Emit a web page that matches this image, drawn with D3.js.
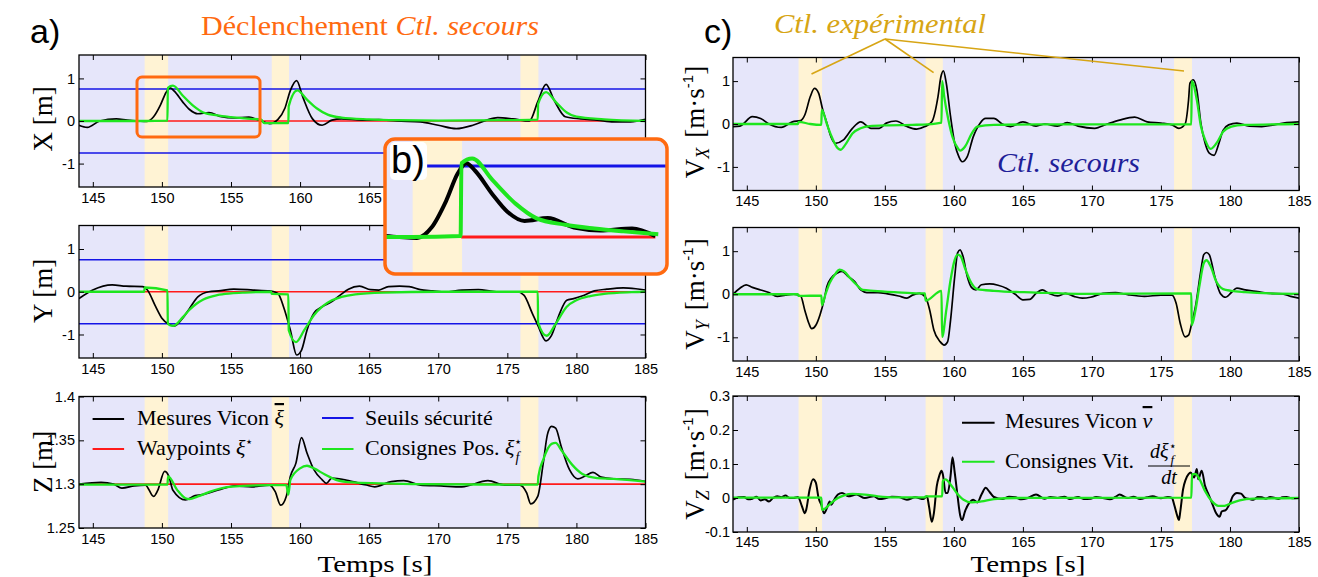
<!DOCTYPE html>
<html>
<head>
<meta charset="utf-8">
<script src="https://cdnjs.cloudflare.com/ajax/libs/d3/7.8.5/d3.min.js"></script>
<style>
  body { margin: 0; background: #fff; }
  svg { display: block; }
</style>
</head>
<body>
<script>
// ---- data ----
var timeDomain = [144, 185];
var timeTicks = [145, 150, 155, 160, 165, 170, 175, 180, 185];
var posTicks = [-1, 0, 1];
var zTicks = [1.25, 1.3, 1.35, 1.4];
var vzTicks = [-0.1, 0, 0.1, 0.2, 0.3];

// periods where the experimental controller is active (yellow bands)
var bands = [[148.75, 150.45], [157.95, 159.2], [175.95, 177.25]];
var safetyLimits = [0.75, -0.75];
var waypointXY = 0;
var waypointZ = 1.3;

// position X [m]
var xMeas = [[144,-0.1],[144.6,-0.15],[145.5,0],[146.7,0.05],[147.5,0.02],[148.3,0],[148.9,-0.01],[149.4,0.1],[149.9,0.38],[150.3,0.67],[150.6,0.78],[150.9,0.7],[151.5,0.45],[152.0,0.27],[152.6,0.17],[153.4,0.2],[154.3,0.1],[155.2,0.07],[156.3,0.09],[157.1,0.01],[157.8,-0.06],[158.4,0.04],[158.9,0.3],[159.3,0.72],[159.75,0.95],[160.2,0.56],[160.9,0.05],[161.6,-0.1],[162.3,0.02],[163.0,0.05],[164.5,0.02],[165.7,0.03],[167,0.0],[168.7,-0.02],[170,-0.1],[171.3,-0.18],[172.5,-0.1],[173.5,0.02],[174.3,0.08],[175.4,0.05],[176.6,0.0],[177.2,0.45],[177.8,0.86],[178.4,0.48],[179.2,0.1],[180.3,0.05],[181.5,0.02],[182.7,-0.02],[183.9,-0.02],[185,0.04]];
var xCmd = [[144,0],[148.7,0],[150.4,0.01],[150.43,0.78],[150.8,0.83],[151.5,0.6],[152.3,0.35],[153,0.2],[154,0.13],[155,0.09],[156,0.06],[157.2,0.03],[157.4,-0.05],[159.15,-0.05],[159.18,0.35],[159.8,0.72],[160.5,0.5],[161.2,0.3],[162,0.15],[163,0.08],[165,0.04],[167,0.02],[170,0.01],[175.5,0.02],[177.2,0.03],[177.23,0.4],[177.8,0.68],[178.5,0.45],[179.3,0.2],[180,0.1],[182,0.04],[185,0]];

// position Y [m]
var yMeas = [[144,-0.16],[145,0.04],[146.4,0.16],[147.4,0.13],[148.6,0.12],[148.95,0.04],[149.55,-0.35],[150,-0.62],[150.5,-0.76],[150.9,-0.8],[151.4,-0.66],[152,-0.39],[152.6,-0.12],[153.4,0],[154.1,0.02],[155.2,0.06],[156.6,0.04],[157.8,0.02],[158.4,-0.04],[158.8,-0.35],[159.3,-0.9],[159.75,-1.48],[160.1,-1.37],[160.5,-0.9],[161,-0.5],[161.6,-0.35],[162.3,-0.23],[162.9,-0.08],[163.5,0.06],[164.3,0.13],[165.1,0.05],[165.7,0.04],[166.4,0.12],[167.2,0.13],[167.9,0.12],[168.7,0.05],[169.6,0.02],[170.5,-0.01],[171.7,0.04],[172.9,0.05],[174.2,0],[175.7,0],[176.2,-0.08],[176.8,-0.5],[177.2,-0.78],[177.8,-1.15],[178.2,-1.02],[178.7,-0.58],[179.3,-0.2],[179.8,-0.16],[180.4,-0.1],[181.3,0.02],[182.2,0.06],[183.4,0.09],[184.3,0.07],[185,0.04]];
var yCmd = [[144,0],[148.72,0],[148.75,0.1],[150.4,0.03],[150.43,-0.75],[150.8,-0.8],[151.5,-0.6],[152,-0.42],[152.5,-0.28],[153,-0.18],[154,-0.08],[155,-0.04],[156,-0.02],[157.9,0],[157.95,-0.05],[159.15,-0.06],[159.18,-0.9],[159.7,-1.18],[160.3,-0.9],[161,-0.55],[161.6,-0.35],[162.3,-0.2],[163,-0.12],[164,-0.06],[166,-0.02],[170,0],[177.2,0],[177.23,-0.72],[177.85,-1.03],[178.5,-0.75],[179.3,-0.35],[180,-0.2],[181,-0.1],[182,-0.05],[184,-0.01],[185,0]];

// position Z [m]
var zMeas = [[144,1.3],[145.6,1.302],[146.5,1.3],[147.1,1.2955],[148,1.298],[148.8,1.299],[149.4,1.286],[149.7,1.293],[150.2,1.3145],[150.5,1.309],[150.8,1.293],[151.7,1.282],[152.4,1.287],[152.9,1.288],[154.1,1.2935],[155.3,1.298],[156.5,1.297],[157.8,1.299],[158.2,1.2915],[158.6,1.276],[159,1.286],[159.3,1.309],[159.7,1.324],[160.1,1.353],[160.5,1.3355],[161,1.3165],[161.6,1.305],[161.9,1.301],[162.3,1.307],[163.5,1.304],[164.8,1.299],[165.4,1.297],[166.6,1.303],[167.5,1.304],[168.7,1.299],[170.2,1.298],[171.7,1.297],[173.6,1.304],[174.8,1.299],[175.9,1.299],[176.4,1.29],[176.7,1.2775],[177.2,1.286],[177.6,1.324],[177.9,1.3565],[178.2,1.366],[178.5,1.364],[178.9,1.343],[179.5,1.3165],[180.1,1.306],[180.6,1.309],[181.2,1.3135],[181.8,1.308],[182.7,1.306],[183.9,1.3055],[185,1.303]];
var zCmd = [[144,1.2995],[150.4,1.2995],[150.45,1.309],[151.1,1.2935],[151.7,1.284],[152,1.283],[152.6,1.286],[153.5,1.2915],[154.7,1.2965],[155.9,1.298],[157.8,1.299],[159.0,1.299],[159.15,1.288],[159.3,1.305],[160,1.318],[160.5,1.321],[161,1.318],[161.8,1.311],[162.6,1.305],[163.8,1.302],[165.7,1.301],[168.7,1.3],[177.2,1.2995],[177.25,1.309],[177.6,1.328],[178.2,1.346],[178.5,1.347],[178.9,1.339],[179.7,1.322],[180.4,1.312],[181.5,1.307],[182.7,1.306],[185,1.303]];

// velocity Vx [m/s]
var vxMeas = [[144,-0.06],[144.5,-0.05],[145.4,0.17],[146,0.13],[146.6,0],[147.5,-0.08],[148.3,0.05],[148.9,0.08],[149.2,0.21],[149.6,0.64],[149.9,0.83],[150.2,0.72],[150.5,0.33],[150.8,0.02],[151.1,-0.3],[151.4,-0.45],[152,-0.37],[152.65,-0.1],[153.25,0.05],[154,-0.1],[154.6,-0.1],[155.1,0.02],[155.8,0.07],[156.6,-0.06],[157.3,-0.12],[157.9,-0.06],[158.4,0.05],[158.85,0.64],[159.06,1.1],[159.24,1.24],[159.45,0.95],[159.76,0.17],[160.06,-0.45],[160.36,-0.76],[160.6,-0.88],[160.97,-0.76],[161.4,-0.3],[161.9,0.02],[162.3,0.13],[162.9,0.13],[163.5,0],[164.1,-0.06],[165,0.05],[165.95,-0.05],[166.6,0],[167.5,-0.05],[168.2,0.03],[169,-0.05],[170.2,-0.1],[171.1,0],[172,0.09],[173.1,0.16],[174,0.05],[175,0.02],[175.8,-0.02],[176.3,-0.1],[176.75,0],[177,0.56],[177.1,0.95],[177.35,1.03],[177.6,0.79],[177.9,0],[178.2,-0.45],[178.5,-0.68],[178.85,-0.73],[179.2,-0.45],[179.5,-0.15],[179.9,-0.02],[180.5,0.02],[181.4,-0.05],[182.3,-0.06],[183.2,-0.02],[184.1,0.03],[185,0.05]];
var vxCmd = [[144,0],[148.7,0],[148.75,0.05],[149.6,0],[150.4,-0.02],[150.43,0.33],[150.8,0.0],[151.1,-0.26],[151.6,-0.57],[151.8,-0.6],[152.2,-0.45],[152.65,-0.22],[153.25,-0.1],[153.9,-0.05],[155.1,-0.03],[157,-0.02],[158.1,-0.01],[159.1,0.03],[159.15,1.0],[159.3,0.64],[159.6,0.1],[159.9,-0.3],[160.3,-0.57],[160.45,-0.62],[160.8,-0.53],[161.3,-0.22],[161.7,-0.06],[162.9,-0.02],[166,-0.01],[177.2,-0.01],[177.23,1.0],[177.6,0.56],[177.9,-0.06],[178.2,-0.37],[178.6,-0.58],[179.1,-0.41],[179.5,-0.18],[180.1,-0.06],[181,-0.02],[185,0]];

// velocity Vy [m/s]
var vyMeas = [[144,0],[144.5,0.14],[144.95,0.22],[145.4,0.16],[146,0.1],[146.6,0.04],[147.2,-0.05],[147.8,-0.02],[148.4,0],[148.9,-0.04],[149.2,-0.37],[149.5,-0.68],[149.7,-0.8],[150,-0.72],[150.3,-0.48],[150.6,-0.13],[150.8,0.18],[151.1,0.37],[151.6,0.5],[151.9,0.53],[152.35,0.41],[152.8,0.3],[153.25,0.1],[153.7,0.04],[154.5,0.04],[155.2,0.01],[156,-0.04],[156.6,-0.09],[157,-0.02],[157.5,0.02],[157.95,-0.07],[158.25,-0.37],[158.55,-0.83],[159,-1.1],[159.3,-1.18],[159.55,-1.1],[159.76,-0.6],[160.06,0.41],[160.27,0.96],[160.45,1.03],[160.66,0.88],[160.97,0.41],[161.27,0.16],[161.6,0.1],[162,0.22],[162.6,0.24],[163.2,0.21],[163.8,0.14],[164.45,0],[165,-0.13],[165.5,-0.12],[165.95,0.02],[166.4,0.1],[166.9,0.02],[167.5,-0.04],[168.1,0.02],[168.7,-0.05],[169.3,-0.09],[169.9,-0.07],[170.8,0.02],[171.7,0.04],[172.6,-0.01],[173.8,-0.05],[175,-0.02],[175.8,-0.02],[176.1,-0.21],[176.4,-0.68],[176.75,-0.99],[177,-0.95],[177.2,-0.72],[177.5,-0.29],[177.9,0.57],[178.1,0.92],[178.3,0.97],[178.5,0.92],[178.9,0.41],[179.3,0.02],[179.7,-0.07],[180.1,0.04],[180.5,0.14],[181.1,0.1],[182,0.06],[182.9,0.02],[183.8,0.01],[184.4,-0.05],[185,-0.09]];
var vyCmd = [[144,0],[148.7,0],[148.75,-0.04],[150.4,-0.03],[150.45,-0.25],[150.7,0],[151,0.26],[151.45,0.49],[151.7,0.57],[152.05,0.53],[152.5,0.37],[152.95,0.22],[153.4,0.1],[154.2,0.08],[155.7,0.05],[157.5,0.02],[157.9,0.02],[157.95,-0.15],[159.1,0.08],[159.15,-0.99],[159.45,-0.37],[159.76,0.33],[160.06,0.8],[160.27,0.92],[160.5,0.88],[160.8,0.61],[161.27,0.26],[161.7,0.12],[162.9,0.08],[165.95,0.04],[169,0.01],[177.2,0.02],[177.23,-0.72],[177.5,-0.37],[177.8,0.22],[178.1,0.72],[178.3,0.79],[178.6,0.65],[179,0.3],[179.5,0.12],[180.1,0.08],[181.1,0.05],[182.9,0.02],[185,0.01]];

// velocity Vz [m/s]
var vzMeas = [[144,-0.005],[144.4,0.002],[144.8,0.003],[145.1,-0.004],[145.4,-0.002],[145.7,0.004],[146,-0.007],[146.3,-0.004],[146.6,-0.01],[146.9,0],[147.2,0.005],[147.5,0.002],[147.8,0.007],[148.1,0],[148.4,0],[148.7,0.003],[149,-0.025],[149.2,-0.045],[149.3,-0.035],[149.55,0.025],[149.8,0.055],[150,0.045],[150.2,0],[150.4,-0.02],[150.6,-0.045],[150.8,-0.03],[151,-0.01],[151.1,-0.02],[151.4,0],[151.6,0.01],[151.9,0.015],[152.35,0.005],[152.95,0.01],[153.55,0],[154.2,0.005],[154.6,-0.003],[155.1,0],[155.5,0.004],[156,0.003],[156.6,-0.005],[157.2,0.002],[157.8,-0.003],[158.05,0.005],[158.2,-0.025],[158.4,-0.07],[158.55,-0.045],[158.76,0.035],[158.94,0.065],[159.1,0.08],[159.2,0.07],[159.4,0.015],[159.55,0.015],[159.76,0.065],[159.9,0.12],[160.06,0.075],[160.27,0.005],[160.45,-0.05],[160.6,-0.065],[160.8,-0.04],[161.1,-0.015],[161.4,-0.005],[161.7,-0.013],[162,0.01],[162.3,0.03],[162.6,0.017],[162.9,0.003],[163.5,-0.003],[164,0.004],[164.45,0.002],[164.9,-0.004],[165.35,0],[165.95,0.01],[166.56,-0.002],[167,0.003],[167.5,0],[168,0.004],[168.4,-0.003],[169,0.003],[169.4,-0.003],[169.9,-0.002],[170.3,0.003],[170.8,0],[171.3,-0.004],[171.7,0.003],[172,0.01],[172.6,0],[173,0.004],[173.5,-0.003],[174,0.002],[174.4,0.005],[175,-0.001],[175.5,0.003],[175.8,0],[175.96,-0.02],[176.2,-0.055],[176.3,-0.065],[176.4,-0.04],[176.6,0.025],[176.8,0.055],[177,0.07],[177.15,0.075],[177.4,0.06],[177.6,0.085],[177.7,0.055],[177.95,0.08],[178.2,0.035],[178.4,0.015],[178.7,-0.015],[179,-0.045],[179.25,-0.055],[179.4,-0.04],[179.7,-0.035],[180,-0.015],[180.2,0.005],[180.5,0.015],[180.8,0.013],[181.1,0],[181.4,-0.003],[181.7,-0.005],[182,0.003],[182.3,0.002],[182.6,-0.002],[182.9,0.003],[183.2,0.001],[183.5,-0.003],[183.8,0.002],[184.1,0.003],[184.5,-0.001],[185,0]];
var vzCmd = [[144,0.001],[150.4,0.001],[150.45,-0.035],[150.7,-0.03],[151.1,-0.015],[151.6,0],[152.05,0.008],[152.65,0.012],[153.55,0.01],[154.5,0.005],[155.7,0.002],[157.9,0.002],[157.95,0.005],[159.15,0.005],[159.2,0.05],[159.4,0.055],[159.76,0.04],[160.2,0.015],[160.7,-0.005],[161.3,-0.013],[162,-0.01],[162.9,-0.003],[164.45,0],[177.2,0.001],[177.25,0.07],[177.5,0.07],[177.8,0.055],[178.2,0.02],[178.7,-0.01],[179.15,-0.023],[179.6,-0.023],[180.1,-0.015],[180.7,-0.007],[181.7,-0.002],[185,0]];

// ---- colours / fonts ----
var bgColor = "#e6e6fa";
var bandColor = "#fff3d4";
var measColor = "#000";
var cmdColor = "#1ee61e";
var limitColor = "#1414e6";
var wpColor = "#ff1a1a";
var orange = "#ff6a10";
var gold = "#d7a514";
var navy = "#1f1f99";
var serif = "Liberation Serif, DejaVu Serif, serif";
var sans = "Liberation Sans, Arial, sans-serif";

var svg = d3.select("body").append("svg")
	.attr("width", 1318)
	.attr("height", 577);

// draw one sub-plot
function drawPanel(p) {
	var x = d3.scaleLinear().domain(timeDomain).range([p.x0, p.x1]);
	var y = d3.scaleLinear().domain(p.dom).range([p.y1, p.y0]);
	var g = svg.append("g");

	g.append("clipPath").attr("id", "clip-" + p.id)
		.append("rect")
		.attr("x", p.x0).attr("y", p.y0)
		.attr("width", p.x1 - p.x0).attr("height", p.y1 - p.y0);

	var body = g.append("g").attr("clip-path", "url(#clip-" + p.id + ")");
	body.append("rect")
		.attr("x", p.x0).attr("y", p.y0)
		.attr("width", p.x1 - p.x0).attr("height", p.y1 - p.y0)
		.attr("fill", bgColor);

	body.selectAll(".band").data(bands).enter()
		.append("rect")
		.attr("x", function(d) { return x(d[0]); })
		.attr("width", function(d) { return x(d[1]) - x(d[0]); })
		.attr("y", p.y0).attr("height", p.y1 - p.y0)
		.attr("fill", bandColor);

	if (p.wp !== undefined) {
		body.append("line")
			.attr("x1", p.x0).attr("x2", p.x1)
			.attr("y1", y(p.wp)).attr("y2", y(p.wp))
			.attr("stroke", wpColor).attr("stroke-width", 1.6);
	}
	(p.limits || []).forEach(function(v) {
		body.append("line")
			.attr("x1", p.x0).attr("x2", p.x1)
			.attr("y1", y(v)).attr("y2", y(v))
			.attr("stroke", limitColor).attr("stroke-width", 1.6);
	});

	var line = d3.line()
		.x(function(d) { return x(d[0]); })
		.y(function(d) { return y(d[1]); })
		.curve(d3.curveMonotoneX);

	body.append("path").datum(p.meas)
		.attr("d", line).attr("fill", "none")
		.attr("stroke", measColor).attr("stroke-width", p.measWidth || 1.7);
	body.append("path").datum(p.cmd)
		.attr("d", line).attr("fill", "none")
		.attr("stroke", cmdColor).attr("stroke-width", 2.3);

	// axes, matlab style : ticks inside on all four sides
	var ax = [];
	ax.push(g.append("g").attr("transform", "translate(0," + p.y1 + ")")
		.call(d3.axisBottom(x).tickValues(timeTicks).tickSize(-5).tickPadding(p.xpad || 5.5).tickFormat(d3.format("d"))));
	ax.push(g.append("g").attr("transform", "translate(0," + p.y0 + ")")
		.call(d3.axisTop(x).tickValues(timeTicks).tickSize(-5).tickFormat("")));
	ax.push(g.append("g").attr("transform", "translate(" + p.x0 + ",0)")
		.call(d3.axisLeft(y).tickValues(p.ticks).tickSize(-5).tickPadding(p.ypad).tickFormat(function(d) { return String(d); })));
	ax.push(g.append("g").attr("transform", "translate(" + p.x1 + ",0)")
		.call(d3.axisRight(y).tickValues(p.ticks).tickSize(-5).tickFormat("")));
	ax.forEach(function(a) {
		a.select(".domain").remove();
		a.attr("font-family", sans).attr("font-size", 14.5);
		a.selectAll("line").attr("stroke", "#000");
		a.selectAll("text").attr("fill", "#000");
	});

	g.append("rect")
		.attr("x", p.x0).attr("y", p.y0)
		.attr("width", p.x1 - p.x0).attr("height", p.y1 - p.y0)
		.attr("fill", "none").attr("stroke", "#000").attr("stroke-width", 1.3);

	return {x: x, y: y};
}

var L0 = 79, L1 = 645.5, R0 = 733, R1 = 1299;

drawPanel({id: "x", x0: L0, x1: L1, y0: 55, y1: 187, dom: [-1.55, 1.55], ticks: posTicks, ypad: 4,
	meas: xMeas, cmd: xCmd, wp: waypointXY, limits: safetyLimits});
drawPanel({id: "y", x0: L0, x1: L1, y0: 225.5, y1: 358, dom: [-1.55, 1.55], ticks: posTicks, ypad: 4,
	meas: yMeas, cmd: yCmd, wp: waypointXY, limits: safetyLimits});
drawPanel({id: "z", x0: L0, x1: L1, y0: 396.5, y1: 528, dom: [1.25, 1.4], ticks: zTicks, ypad: 4,
	meas: zMeas, cmd: zCmd, wp: waypointZ});
drawPanel({id: "vx", x0: R0, x1: R1, y0: 57.5, y1: 190.5, dom: [-1.55, 1.55], ticks: posTicks, ypad: 3,
	meas: vxMeas, cmd: vxCmd});
drawPanel({id: "vy", x0: R0, x1: R1, y0: 227.5, y1: 361, dom: [-1.55, 1.55], ticks: posTicks, ypad: 3,
	meas: vyMeas, cmd: vyCmd});
drawPanel({id: "vz", x0: R0, x1: R1, y0: 396, y1: 532, dom: [-0.1, 0.3], ticks: vzTicks, ypad: 3, xpad: 4.5,
	meas: vzMeas, cmd: vzCmd, measWidth: 2});

// ---- y labels ----
function posLabel(cx, cy, name) {
	svg.append("text")
		.attr("transform", "translate(" + cx + "," + cy + ") rotate(-90)")
		.attr("text-anchor", "middle")
		.attr("font-family", serif).attr("font-size", 27)
		.text(name + " [m]");
}
posLabel(52, 119, "X");
posLabel(52, 291, "Y");
posLabel(52, 462, "Z");

function velLabel(cx, cy, sub) {
	var t = svg.append("text")
		.attr("transform", "translate(" + cx + "," + cy + ") rotate(-90)")
		.attr("text-anchor", "middle")
		.attr("font-family", serif).attr("font-size", 27);
	t.append("tspan").text("V");
	t.append("tspan").attr("font-size", 18).attr("font-style", "italic").attr("dy", 5).text(sub);
	t.append("tspan").attr("dy", -5).attr("dx", 10).text("[m·s");
	t.append("tspan").attr("font-family", sans).attr("font-size", 15).attr("dy", -11).text("-1");
	t.append("tspan").attr("dy", 11).text("]");
}
velLabel(704, 122, "X");
velLabel(704, 294, "Y");
velLabel(704, 464, "Z");

// ---- x labels ----
[[375, 571.5], [1028, 571.5]].forEach(function(pos) {
	svg.append("text")
		.attr("x", pos[0]).attr("y", pos[1])
		.attr("text-anchor", "middle")
		.attr("font-family", serif).attr("font-size", 24)
		.attr("textLength", 115).attr("lengthAdjust", "spacingAndGlyphs")
		.text("Temps [s]");
});

// ---- panel letters ----
svg.append("text").attr("x", 30).attr("y", 43)
	.attr("font-family", sans).attr("font-size", 34).text("a)");
svg.append("text").attr("x", 704).attr("y", 43)
	.attr("font-family", sans).attr("font-size", 34).text("c)");

// ---- annotations ----
var title = svg.append("text").attr("x", 201).attr("y", 35)
	.attr("font-family", serif).attr("font-size", 27).attr("fill", orange)
	.attr("textLength", 338).attr("lengthAdjust", "spacingAndGlyphs");
title.append("tspan").text("Déclenchement ");
title.append("tspan").attr("font-style", "italic").text("Ctl.  secours");

svg.append("text").attr("x", 774).attr("y", 33)
	.attr("font-family", serif).attr("font-size", 27).attr("font-style", "italic")
	.attr("textLength", 212).attr("lengthAdjust", "spacingAndGlyphs")
	.attr("fill", gold).text("Ctl.  expérimental");
[[811.5, 74], [933.6, 72.7], [1184, 71]].forEach(function(e) {
	svg.append("line")
		.attr("x1", 885).attr("y1", 39).attr("x2", e[0]).attr("y2", e[1])
		.attr("stroke", gold).attr("stroke-width", 1.6);
});

svg.append("text").attr("x", 997).attr("y", 172)
	.attr("font-family", serif).attr("font-size", 28).attr("font-style", "italic")
	.attr("textLength", 143).attr("lengthAdjust", "spacingAndGlyphs")
	.attr("fill", navy).text("Ctl.  secours");

// ---- legend of Z panel ----
function legendEntry(x, y, color, w) {
	svg.append("line").attr("x1", x).attr("x2", x + w).attr("y1", y).attr("y2", y)
		.attr("stroke", color).attr("stroke-width", 2);
}
var lg = {font: serif, size: 22};
legendEntry(92.6, 419, measColor, 31.5);
var t1 = svg.append("text").attr("x", 137).attr("y", 425).attr("font-family", lg.font).attr("font-size", lg.size);
t1.append("tspan").text("Mesures Vicon ");
t1.append("tspan").attr("font-style", "italic").attr("text-decoration", "overline").text("ξ");
legendEntry(92.6, 449, wpColor, 31.5);
var t2 = svg.append("text").attr("x", 137).attr("y", 455).attr("font-family", lg.font).attr("font-size", lg.size);
t2.append("tspan").text("Waypoints ");
t2.append("tspan").attr("font-style", "italic").text("ξ");
t2.append("tspan").attr("font-size", 13).attr("dy", -9).text("⋆");
legendEntry(322, 418, limitColor, 31.5);
svg.append("text").attr("x", 365).attr("y", 425).attr("font-family", lg.font).attr("font-size", lg.size)
	.text("Seuils sécurité");
legendEntry(322, 449, cmdColor, 31.5);
var t3 = svg.append("text").attr("x", 365).attr("y", 455).attr("font-family", lg.font).attr("font-size", lg.size);
t3.append("tspan").text("Consignes Pos. ");
t3.append("tspan").attr("font-style", "italic").text("ξ");
t3.append("tspan").attr("font-size", 13).attr("dy", -9).text("⋆");
t3.append("tspan").attr("font-size", 14).attr("font-style", "italic").attr("dx", -7).attr("dy", 16).text("f");

// ---- legend of Vz panel ----
legendEntry(962, 422.7, measColor, 32.6);
var t4 = svg.append("text").attr("x", 1005).attr("y", 428).attr("font-family", lg.font).attr("font-size", lg.size);
t4.append("tspan").text("Mesures Vicon ");
t4.append("tspan").attr("font-style", "italic").attr("text-decoration", "overline").text("v");
legendEntry(962, 461.7, cmdColor, 32.6);
svg.append("text").attr("x", 1005).attr("y", 468).attr("font-family", lg.font).attr("font-size", lg.size)
	.text("Consignes Vit.");
var num = svg.append("text").attr("x", 1150).attr("y", 458).attr("font-family", lg.font).attr("font-size", 20);
num.append("tspan").attr("font-style", "italic").text("dξ");
num.append("tspan").attr("font-size", 12).attr("dy", -8).text("⋆");
num.append("tspan").attr("font-size", 13).attr("font-style", "italic").attr("dx", -6).attr("dy", 14).text("f");
svg.append("line").attr("x1", 1148).attr("x2", 1190).attr("y1", 466).attr("y2", 466)
	.attr("stroke", "#000").attr("stroke-width", 1);
svg.append("text").attr("x", 1169).attr("y", 484).attr("text-anchor", "middle")
	.attr("font-family", lg.font).attr("font-size", 20).attr("font-style", "italic").text("dt");

// ---- zoom frame on X panel + inset b) ----
svg.append("rect").attr("x", 137).attr("y", 77).attr("width", 123).attr("height", 60)
	.attr("rx", 5).attr("fill", "none").attr("stroke", orange).attr("stroke-width", 3);

var inset = {x0: 385, x1: 667, y0: 139, y1: 274};
var ix = d3.scaleLinear().domain([147.8, 157.5]).range([inset.x0, inset.x1]);
var iy = d3.scaleLinear().domain([-0.39, 1.035]).range([inset.y1, inset.y0]);
var ig = svg.append("g");
ig.append("clipPath").attr("id", "clip-inset").append("rect")
	.attr("x", inset.x0).attr("y", inset.y0)
	.attr("width", inset.x1 - inset.x0).attr("height", inset.y1 - inset.y0).attr("rx", 10);
var ib = ig.append("g").attr("clip-path", "url(#clip-inset)");
ib.append("rect").attr("x", inset.x0).attr("y", inset.y0)
	.attr("width", inset.x1 - inset.x0).attr("height", inset.y1 - inset.y0).attr("fill", bgColor);
ib.append("rect").attr("x", ix(bands[0][0])).attr("width", ix(bands[0][1]) - ix(bands[0][0]))
	.attr("y", inset.y0).attr("height", inset.y1 - inset.y0).attr("fill", bandColor);
ib.append("line").attr("x1", ix(149.25)).attr("x2", inset.x1)
	.attr("y1", iy(safetyLimits[0])).attr("y2", iy(safetyLimits[0]))
	.attr("stroke", limitColor).attr("stroke-width", 3);
ib.append("line").attr("x1", ix(150.42)).attr("x2", ix(157.1))
	.attr("y1", iy(waypointXY)).attr("y2", iy(waypointXY))
	.attr("stroke", wpColor).attr("stroke-width", 3);
var iline = d3.line()
	.x(function(d) { return ix(d[0]); })
	.y(function(d) { return iy(d[1]); })
	.curve(d3.curveMonotoneX);
ib.append("path").datum(xMeas.filter(function(d) { return d[0] >= 147.5 && d[0] <= 157.1; }))
	.attr("d", iline).attr("fill", "none").attr("stroke", measColor).attr("stroke-width", 4);
ib.append("path").datum(xCmd.filter(function(d) { return d[0] <= 157.2; }))
	.attr("d", iline).attr("fill", "none").attr("stroke", cmdColor).attr("stroke-width", 4);
ig.append("rect").attr("x", inset.x0).attr("y", inset.y0)
	.attr("width", inset.x1 - inset.x0).attr("height", inset.y1 - inset.y0).attr("rx", 10)
	.attr("fill", "none").attr("stroke", orange).attr("stroke-width", 3.5);
ig.append("rect").attr("x", 390).attr("y", 142).attr("width", 37).attr("height", 38).attr("rx", 5)
	.attr("fill", "#fff");
ig.append("text").attr("x", 391).attr("y", 173)
	.attr("font-family", sans).attr("font-size", 38).text("b)");
</script>
</body>
</html>
